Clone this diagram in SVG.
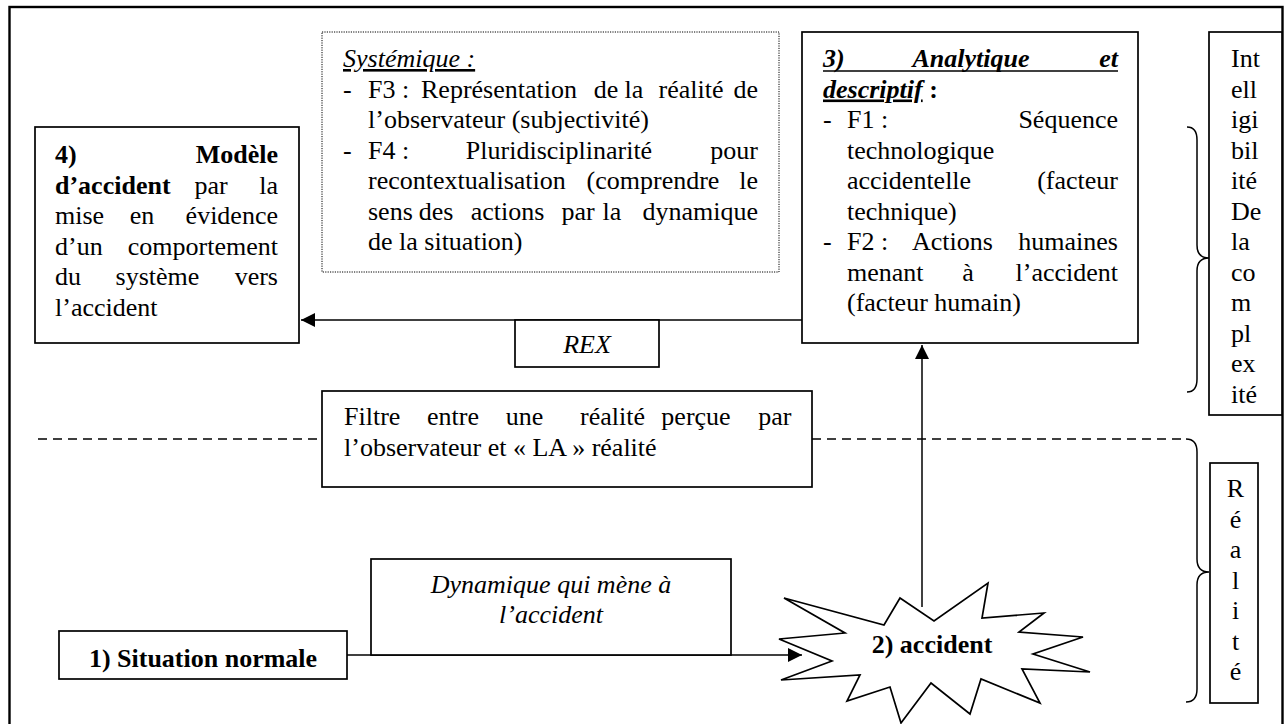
<svg xmlns="http://www.w3.org/2000/svg" width="1284" height="724" viewBox="0 0 1284 724" font-family="Times New Roman" font-size="26">
<style>
.b{font-weight:bold}
.i{font-style:italic}
.m{text-anchor:middle}
.e{text-anchor:end}
.box{fill:#fff;stroke:#000;stroke-width:1.7}
.ln{fill:none;stroke:#000;stroke-width:1.5}
</style>
<defs>
<marker id="ah" markerUnits="userSpaceOnUse" markerWidth="15" markerHeight="15" refX="14" refY="7" orient="auto">
<path d="M0,0 L14,7 L0,14 z" fill="#000"/>
</marker>
</defs>
<rect x="0" y="0" width="1284" height="724" fill="#fff"/>
<rect id="frame" x="9.5" y="7" width="1273" height="740" fill="none" stroke="#000" stroke-width="2.4"/>

<g id="connectors">
<path class="ln" d="M802,320 L301,320" marker-end="url(#ah)"/>
<path class="ln" d="M922,607 L922,345" marker-end="url(#ah)"/>
<path class="ln" d="M347,655 L802,655" marker-end="url(#ah)"/>
<path class="ln" stroke-dasharray="9 6" d="M38,439 L322,439 M812,439 L1186,439"/>
</g>

<g id="braces">
<path class="ln" d="M1187,127 Q1197,127 1197,140 L1197,245 Q1197,258 1209,258 Q1197,258 1197,271 L1197,379 Q1197,392 1187,392"/>
<path class="ln" d="M1186,439 Q1197,439 1197,452 L1197,559 Q1197,572 1209,572 Q1197,572 1197,585 L1197,689 Q1197,702 1186,702"/>
</g>

<g id="systemique">
<rect x="322" y="32" width="457" height="240" fill="#fff" stroke="#000" stroke-width="1" stroke-dasharray="1.2 1.2"/>
<text x="343" y="67" class="i" text-decoration="underline">Systémique :</text>
<text x="343" y="97.5">-</text><text x="368" y="97.5">F3 :</text><text x="499" y="97.5" class="m">Représentation</text><text x="606" y="97.5" class="m">de</text><text x="634" y="97.5" class="m">la</text><text x="691" y="97.5" class="m">réalité</text><text x="758" y="97.5" class="e">de</text>
<text x="368" y="128">l’observateur (subjectivité)</text>
<text x="343" y="158.5">-</text><text x="368" y="158.5">F4 :</text><text x="559" y="158.5" class="m">Pluridisciplinarité</text><text x="758" y="158.5" class="e">pour</text>
<text x="368" y="189">recontextualisation</text><text x="653" y="189" class="m">(comprendre</text><text x="758" y="189" class="e">le</text>
<text x="368" y="219.5">sens</text><text x="436" y="219.5" class="m">des</text><text x="507.5" y="219.5" class="m">actions</text><text x="578" y="219.5" class="m">par</text><text x="612" y="219.5" class="m">la</text><text x="758" y="219.5" class="e">dynamique</text>
<text x="368" y="250">de la situation)</text>
</g>

<g id="modele">
<rect class="box" x="35" y="127" width="264" height="216"/>
<text x="55" y="163" class="b">4)</text><text x="278" y="163" class="b e">Modèle</text>
<text x="55" y="193.5" class="b">d’accident</text><text x="211" y="193.5" class="m">par</text><text x="278" y="193.5" class="e">la</text>
<text x="55" y="224">mise</text><text x="142" y="224" class="m">en</text><text x="278" y="224" class="e">évidence</text>
<text x="55" y="254.5">d’un</text><text x="278" y="254.5" class="e">comportement</text>
<text x="55" y="285">du</text><text x="157.5" y="285" class="m">système</text><text x="278" y="285" class="e">vers</text>
<text x="55" y="315.5">l’accident</text>
</g>

<g id="analytique">
<rect class="box" x="802" y="32" width="336" height="311"/>
<line x1="823" y1="71" x2="1118" y2="71" stroke="#000" stroke-width="1.6"/>
<text x="823" y="67" class="b i">3)</text><text x="971" y="67" class="b i m">Analytique</text><text x="1118" y="67" class="b i e">et</text>
<text x="823" y="97.5" class="b"><tspan class="i" text-decoration="underline">descriptif</tspan> :</text>
<text x="823" y="128">-</text><text x="847" y="128">F1 :</text><text x="1118" y="128" class="e">Séquence</text>
<text x="847" y="158.5">technologique</text>
<text x="847" y="189">accidentelle</text><text x="1118" y="189" class="e">(facteur</text>
<text x="847" y="219.5">technique)</text>
<text x="823" y="250">-</text><text x="847" y="250">F2 :</text><text x="952.5" y="250" class="m">Actions</text><text x="1118" y="250" class="e">humaines</text>
<text x="847" y="280.5">menant</text><text x="968" y="280.5" class="m">à</text><text x="1118" y="280.5" class="e">l’accident</text>
<text x="847" y="311">(facteur humain)</text>
</g>

<g id="intelligibilite">
<rect class="box" x="1209" y="32" width="73" height="383"/>
<text x="1231" y="67">Int</text>
<text x="1231" y="97.5">ell</text>
<text x="1231" y="128">igi</text>
<text x="1231" y="158.5">bil</text>
<text x="1231" y="189">ité</text>
<text x="1231" y="219.5">De</text>
<text x="1231" y="250">la</text>
<text x="1231" y="280.5">co</text>
<text x="1231" y="311">m</text>
<text x="1231" y="341.5">pl</text>
<text x="1231" y="372">ex</text>
<text x="1231" y="402.5">ité</text>
</g>

<g id="rex">
<rect class="box" x="515" y="320" width="144" height="47"/>
<text x="587" y="353" class="i m">REX</text>
</g>

<g id="filtre">
<rect class="box" x="322" y="391" width="490" height="96"/>
<text x="344" y="425">Filtre</text><text x="453" y="425" class="m">entre</text><text x="524.5" y="425" class="m">une</text><text x="612.5" y="425" class="m">réalité</text><text x="696" y="425" class="m">perçue</text><text x="791.5" y="425" class="e">par</text>
<text x="344" y="456">l’observateur et « LA » réalité</text>
</g>

<g id="dynamique">
<rect class="box" x="371" y="559" width="360" height="96"/>
<text x="551" y="593" class="i m">Dynamique qui mène à</text>
<text x="551" y="623" class="i m">l’accident</text>
</g>

<g id="situation">
<rect class="box" x="59" y="631" width="288" height="48"/>
<text x="203" y="667" class="b m">1) Situation normale</text>
</g>

<g id="accident">
<polygon class="box" points="988,583 982,618 1044,613 1019,632 1083,637 1033,654 1090,672 1022,669 1040,703 981,679 970,714 931,683 901,723 890,687 847,701 860,675 781,680 832,661 779,639 845,633 784,598 884,625 900,598 934,621"/>
<text x="932" y="653" class="b m">2) accident</text>
</g>

<g id="realite">
<rect class="box" x="1210" y="463" width="48" height="240"/>
<text x="1235.5" y="497" class="m">R</text>
<text x="1235.5" y="527.5" class="m">é</text>
<text x="1235.5" y="558" class="m">a</text>
<text x="1235.5" y="588.5" class="m">l</text>
<text x="1235.5" y="619" class="m">i</text>
<text x="1235.5" y="649.5" class="m">t</text>
<text x="1235.5" y="680" class="m">é</text>
</g>
</svg>
